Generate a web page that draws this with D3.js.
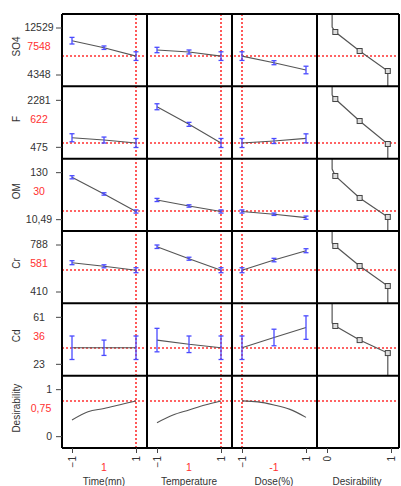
<!DOCTYPE html>
<html>
<head>
<meta charset="utf-8">
<script src="https://cdn.jsdelivr.net/npm/d3@7"></script>
<style>
  body { margin: 0; background: #fff; }
  svg { display: block; font-family: "Liberation Sans", Arial, sans-serif; }
</style>
</head>
<body>
<svg></svg>
<script>
// factors (columns)
const factors = ["Time(mn)", "Temperature", "Dose(%)"];
const factorLevels = [-1, 0, 1];
const factorOptimum = [1, 1, -1];
const optimumLabels = ["1", "1", "-1"];

// responses (rows)
const responses = ["SO4", "F", "OM", "Cr", "Cd"];
const responseLow = [4348, 475, 10.49, 410, 23];
const responseHigh = [12529, 2281, 130, 788, 61];
const lowLabels = ["4348", "475", "10,49", "410", "23"];
const highLabels = ["12529", "2281", "130", "788", "61"];
const responseCurrent = [7548, 622, 30, 581, 36];
const currentLabels = ["7548", "622", "30", "581", "36"];

// mean response at -1, 0, 1 for Time, Temperature, Dose, with error half widths
const so4Means = [[10233, 9014, 7548], [8613, 8265, 7548], [7548, 6402, 5131]];
const so4Errors = [[575, 300, 750], [470, 350, 750], [750, 350, 660]];
const fMeans = [[824, 736, 622], [2015, 1339, 622], [622, 698, 801]];
const fErrors = [[154, 115, 173], [115, 77, 173], [173, 96, 173]];
const omMeans = [[117, 74.6, 30], [59.3, 44, 30], [30, 23, 14.3]];
const omErrors = [[4, 3, 4], [4, 3, 4], [4, 3, 4]];
const crMeans = [[641.6, 612.6, 581], [770, 673.7, 581], [581, 663, 738]];
const crErrors = [[16, 12, 20], [14, 12, 20], [20, 14, 16]];
const cdMeans = [[36, 36, 36], [42.2, 38.8, 36], [36, 44.3, 52.3]];
const cdErrors = [[9.5, 6.2, 9.5], [9.5, 6.7, 9.5], [9.5, 6.7, 9.5]];

// composite desirability
const desirLevels = [-1, -0.5, 0, 0.5, 1];
const desirTime = [0.345, 0.52, 0.59, 0.67, 0.75];
const desirTemp = [0.287, 0.45, 0.557, 0.664, 0.75];
const desirDose = [0.75, 0.73, 0.664, 0.57, 0.40];
const desirCurrent = 0.75;

// individual desirability curves (d, response); first point is the bend
const indivD = [0.08, 0.13, 0.51, 0.95];
const so4Indiv = [12600, 11746, 8437, 4955];
const fIndiv = [2465, 2312, 1467, 584];
const omIndiv = [138, 120.3, 64.4, 16.1];
const crIndiv = [800, 776, 615, 454];
const cdIndiv = [56, 53.6, 42.2, 31.7];

const allMeans = [so4Means, fMeans, omMeans, crMeans, cdMeans];
const allErrors = [so4Errors, fErrors, omErrors, crErrors, cdErrors];
const allIndiv = [so4Indiv, fIndiv, omIndiv, crIndiv, cdIndiv];
const desirCurves = [desirTime, desirTemp, desirDose];

const width = 401, height = 486;
const svg = d3.select("svg").attr("width", width).attr("height", height);

const gridLeft = 62, gridTop = 14, gridBottom = 448, gridRight = 399;
const colW = 85;
const rowH = (gridBottom - gridTop) / 6;
const colX = (c) => gridLeft + c * colW;
const rowY = (r) => gridTop + r * rowH;

const red = "#ff3030", blue = "#4a4aff", lineGray = "#555", textGray = "#333";

const xScales = d3.range(4).map((c) =>
  d3.scaleLinear().domain(c < 3 ? [-1, 1] : [0, 1]).range([colX(c) + 10, colX(c) + 74])
);

const rowLow = responseLow.concat([0]);
const rowHigh = responseHigh.concat([1]);
const rowCurrent = responseCurrent.concat([desirCurrent]);
const yScales = d3.range(6).map((r) =>
  d3.scaleLinear().domain([rowLow[r], rowHigh[r]]).range([rowY(r) + 60.5, rowY(r) + 13.5])
);

//Red reference lines at the optimum
const refs = svg.append("g").attr("stroke", red).attr("stroke-width", 1.6).attr("stroke-dasharray", "2,2");
d3.range(6).forEach((r) => {
  const y = Math.round(yScales[r](rowCurrent[r]));
  refs.append("line").attr("x1", gridLeft).attr("x2", gridRight).attr("y1", y).attr("y2", y);
});
d3.range(3).forEach((c) => {
  const x = Math.round(xScales[c](factorOptimum[c]));
  refs.append("line").attr("x1", x).attr("x2", x).attr("y1", gridTop).attr("y2", gridBottom);
});

//Main effect panels + individual desirability column
const line = d3.line();
responses.forEach((name, r) => {
  const y = yScales[r];
  d3.range(3).forEach((c) => {
    const x = xScales[c];
    const means = allMeans[r][c];
    const errs = allErrors[r][c];
    svg.append("path")
      .attr("d", line(factorLevels.map((l, i) => [x(l), y(means[i])])))
      .attr("fill", "none").attr("stroke", lineGray).attr("stroke-width", 1.1);
    const eb = svg.append("g").attr("stroke", blue).attr("stroke-width", 1.3);
    factorLevels.forEach((l, i) => {
      const px = x(l), y1 = y(means[i] - errs[i]), y2 = y(means[i] + errs[i]);
      eb.append("line").attr("x1", px).attr("x2", px).attr("y1", y1).attr("y2", y2);
      eb.append("line").attr("x1", px - 2.5).attr("x2", px + 2.5).attr("y1", y1).attr("y2", y1);
      eb.append("line").attr("x1", px - 2.5).attr("x2", px + 2.5).attr("y1", y2).attr("y2", y2);
    });
  });

  const xd = xScales[3];
  const vals = allIndiv[r];
  const pts = indivD.map((d, i) => [xd(d), y(vals[i])]);
  const path = [[pts[0][0], rowY(r)]].concat(pts, [[pts[3][0], rowY(r + 1)]]);
  svg.append("path").attr("d", line(path))
    .attr("fill", "none").attr("stroke", lineGray).attr("stroke-width", 1.2);
  svg.selectAll(null).data(pts.slice(1)).enter().append("rect")
    .attr("x", (d) => d[0] - 2.5).attr("y", (d) => d[1] - 2.5)
    .attr("width", 5).attr("height", 5)
    .attr("fill", "#ddd").attr("stroke", "#444").attr("stroke-width", 1);
});

//Composite desirability curves
const curve = d3.line().curve(d3.curveMonotoneX);
d3.range(3).forEach((c) => {
  svg.append("path")
    .attr("d", curve(desirLevels.map((l, i) => [xScales[c](l), yScales[5](desirCurves[c][i])])))
    .attr("fill", "none").attr("stroke", lineGray).attr("stroke-width", 1.1);
});

//Panel borders
const borders = svg.append("g").attr("stroke", "#000").attr("stroke-width", 2);
d3.range(7).forEach((r) => {
  borders.append("line").attr("x1", gridLeft).attr("x2", gridRight).attr("y1", rowY(r)).attr("y2", rowY(r));
});
d3.range(4).map(colX).concat([gridRight]).forEach((x) => {
  borders.append("line").attr("x1", x).attr("x2", x).attr("y1", gridTop).attr("y2", gridBottom);
});

//Left axes, current values and row titles
const rowNames = responses.concat(["Desirability"]);
const rowHighLabels = highLabels.concat(["1"]);
const rowLowLabels = lowLabels.concat(["0"]);
const rowCurrentLabels = currentLabels.concat(["0,75"]);
d3.range(6).forEach((r) => {
  const y = yScales[r];
  const labels = [rowLowLabels[r], rowHighLabels[r]];
  const ax = svg.append("g")
    .attr("transform", `translate(${gridLeft},0)`)
    .call(d3.axisLeft(y).tickValues([rowLow[r], rowHigh[r]])
      .tickFormat((d, i) => labels[i]).tickSize(6).tickPadding(4));
  ax.select(".domain").remove();
  ax.selectAll("line").attr("stroke", "#444");
  ax.selectAll("text").attr("font-size", 10.5).attr("fill", textGray).attr("font-family", null);
  if (r < 5) ax.selectAll("text").attr("text-anchor", "middle").attr("x", -23);
  const mid = (y(rowLow[r]) + y(rowHigh[r])) / 2 - 4.5;
  svg.append("text").attr("x", r < 5 ? 39 : 41).attr("y", mid).attr("dy", "0.35em")
    .attr("text-anchor", "middle").attr("font-size", 10.5).attr("fill", red)
    .text(rowCurrentLabels[r]);
  svg.append("text").attr("transform", `translate(16,${mid}) rotate(-90)`)
    .attr("dy", "0.35em").attr("text-anchor", "middle")
    .attr("font-size", 10).attr("fill", textGray).text(rowNames[r]);
});

//Bottom axes, optimum settings and column titles
const colTitles = factors.concat(["Desirability"]);
d3.range(4).forEach((c) => {
  const x = xScales[c];
  const ax = svg.append("g")
    .attr("transform", `translate(0,${gridBottom})`)
    .call(d3.axisBottom(x).tickValues(x.domain()).tickFormat(d3.format("d")).tickSize(5));
  ax.select(".domain").remove();
  ax.selectAll("line").attr("stroke", "#444");
  ax.selectAll("text").attr("font-size", 10).attr("fill", textGray).attr("font-family", null)
    .attr("transform", "rotate(-90)").attr("text-anchor", "end")
    .attr("x", -8).attr("y", 0).attr("dy", "0.35em");
  const cx = (x.range()[0] + x.range()[1]) / 2;
  if (c < 3) {
    svg.append("text").attr("x", cx).attr("y", 471).attr("text-anchor", "middle")
      .attr("font-size", 10.5).attr("fill", red).text(optimumLabels[c]);
  }
  svg.append("text").attr("x", c < 3 ? cx : cx - 2).attr("y", 485).attr("text-anchor", "middle")
    .attr("font-size", 10).attr("fill", textGray).text(colTitles[c]);
});
</script>
</body>
</html>
